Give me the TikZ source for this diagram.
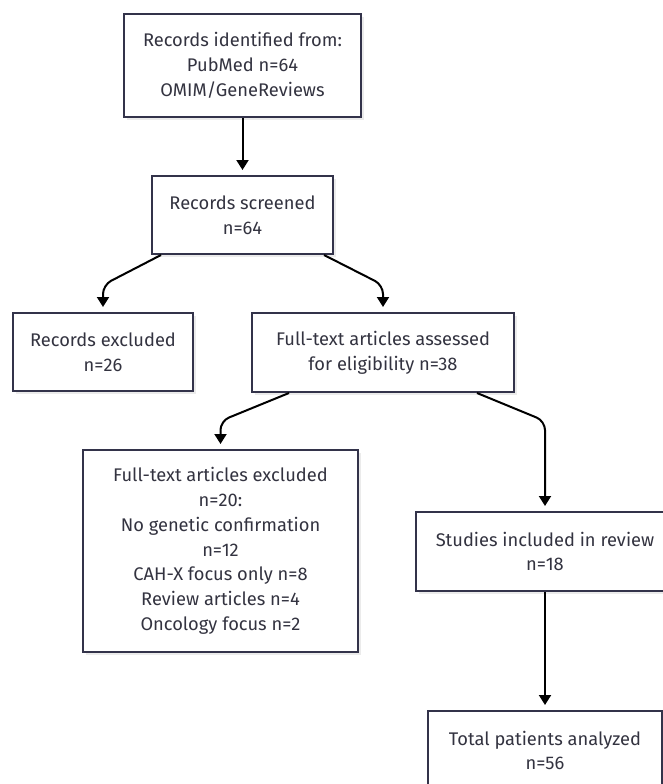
\documentclass[tikz,border=0pt]{standalone}
\usepackage{fontspec}
\setmainfont{Fira Sans}
\usetikzlibrary{calc, positioning, arrows.meta, shadows}

\definecolor{boxline}{HTML}{33334A}
\definecolor{boxtext}{HTML}{333340}

\begin{document}
\begin{tikzpicture}[
			x=1pt, y=-1pt,
			box/.style={draw=boxline, line width=2pt, fill=white, align=center, inner sep=0pt, text=boxtext,
				font=\fontsize{18.3}{24.8}\selectfont,
				drop shadow={shadow xshift=3pt, shadow yshift=-3pt, fill=black!8, opacity=1}},
			link/.style={-{Triangle[width=12pt,length=10pt]}, line width=2pt, rounded corners=9pt, shorten >=5pt},
			]
			\useasboundingbox (0,0) rectangle (662,784);
			
			% Kästen
			\node[box, minimum width=237pt, minimum height=103pt] (ident) at (242.5,65.5) {Records identified from:\\PubMed n=64\\OMIM/GeneReviews};
			\node[box, minimum width=181pt, minimum height=78pt] (screen) at (242.5,215) {Records screened\\n=64};
			\node[box, minimum width=180pt, minimum height=78pt] (recexcl) at (103,352) {Records excluded\\n=26};
			\node[box, minimum width=262pt, minimum height=79pt] (assess) at (383,352.5) {Full-text articles assessed\\for eligibility n=38};
			\node[box, minimum width=275pt, minimum height=202pt] (ftexcl) at (220.5,551) {Full-text articles excluded\\n=20:\\No genetic confirmation\\n=12\\CAH-X focus only n=8\\Review articles n=4\\Oncology focus n=2};
			\node[box, minimum width=258pt, minimum height=79pt] (studies) at (545,551.5) {Studies included in review\\n=18};
			\node[box, minimum width=234pt, minimum height=79pt] (total) at (545,750.5) {Total patients analyzed\\n=56};
			
			% Verbindungen
			\draw[link] (ident.south) -- (screen.north);
			\draw[link] ($(screen.south west)+(10,0)$) -- (recexcl.north |- 0,285) -- (recexcl.north);
			\draw[link] ($(screen.south east)+(-10,0)$) -- (assess.north |- 0,285) -- (assess.north);
			\draw[link] ($(assess.south west)+(38,0)$) -- (ftexcl.north |- 0,421) -- (ftexcl.north);
			\draw[link] ($(assess.south east)+(-38,0)$) -- (studies.north |- 0,421) -- (studies.north);
			\draw[link] (studies.south) -- (total.north);
			
		\end{tikzpicture}
\end{document}
